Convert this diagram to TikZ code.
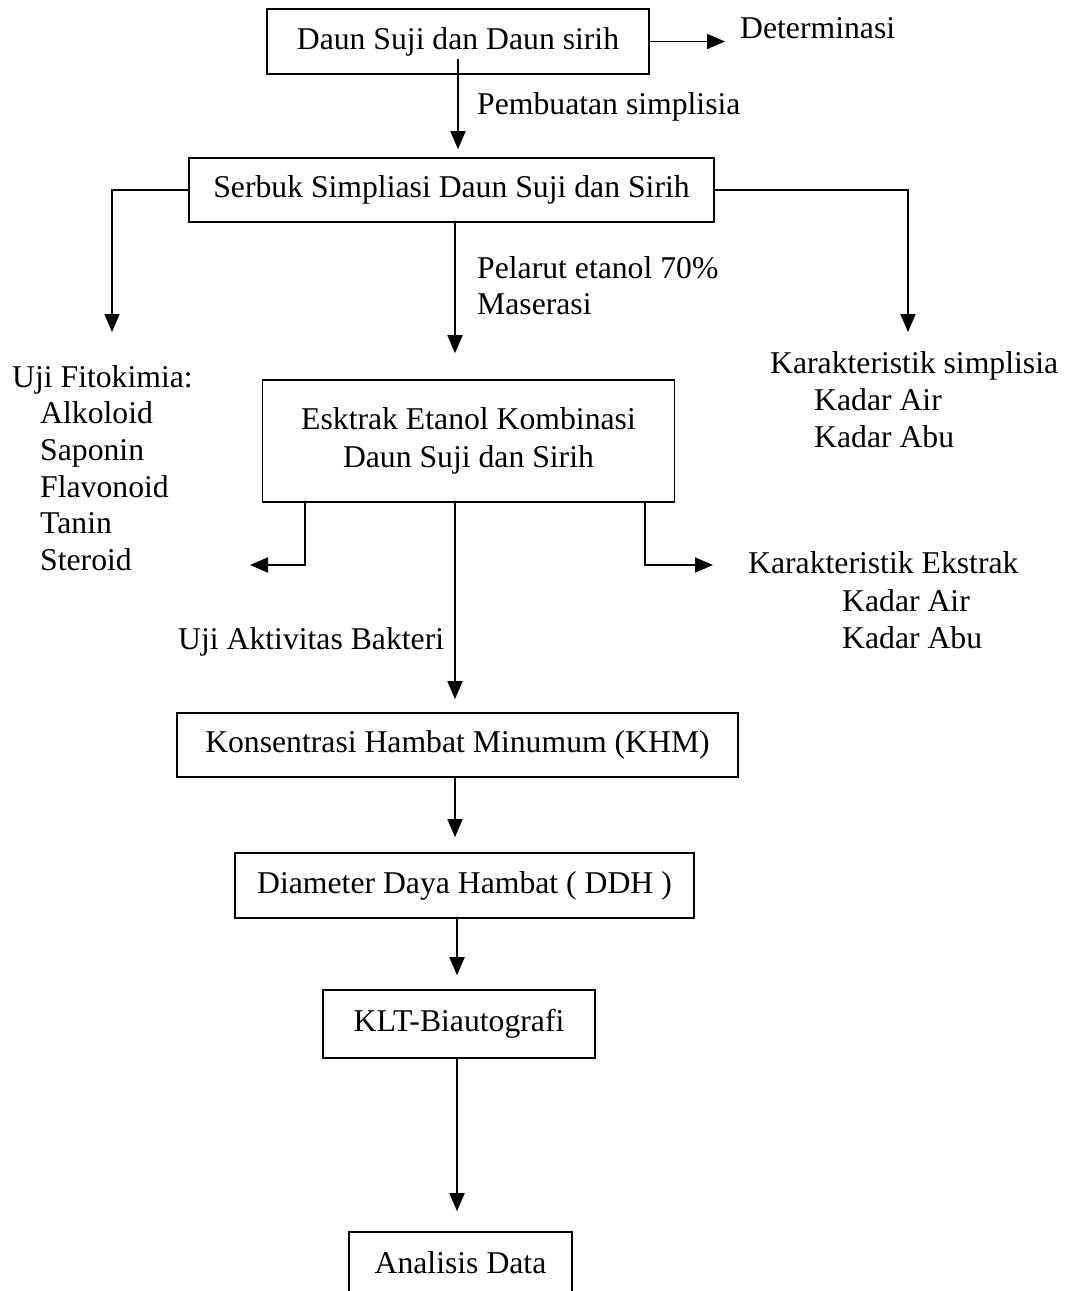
\documentclass[tikz,border=0pt]{standalone}
\usepackage{fontspec}
\setmainfont{Liberation Serif}
\usetikzlibrary{arrows.meta,calc}

\tikzset{
    kotak/.style={draw, line width=1.6pt, inner sep=0pt, align=center,
        font=\fontsize{31.7}{37.5}\selectfont},
    teks/.style={inner sep=0pt, anchor=base west,
        font=\fontsize{31.7}{36.7}\selectfont},
    garis/.style={line width=1.6pt},
    panah/.style={line width=1.7pt, -{Triangle[length=18pt,width=15pt]}}
}

\begin{document}
\begin{tikzpicture}[x=1pt,y=-1pt]
            \clip (0,0) rectangle (1072,1291);
            % kotak utama
            \node[kotak, minimum width=382, minimum height=65] (daun) at (458,41.5) {Daun Suji dan Daun sirih};
            \node[kotak, minimum width=525, minimum height=64] (serbuk) at (451.5,190) {Serbuk Simpliasi Daun Suji dan Sirih};
            \node[kotak, minimum width=412, minimum height=122] (ekstrak) at (468.5,441) {Esktrak Etanol Kombinasi\\Daun Suji dan Sirih};
            \node[kotak, minimum width=561, minimum height=64] (khm) at (457.5,745) {Konsentrasi Hambat Minumum (KHM)};
            \node[kotak, minimum width=459, minimum height=65] (ddh) at (464.5,885.5) {Diameter Daya Hambat ( DDH )};
            \node[kotak, minimum width=272, minimum height=68] (klt) at (459,1024) {KLT-Biautografi};
            \node[kotak, minimum width=223, minimum height=120, text depth=60] (analisis) at (460.5,1292) {Analisis Data};
            % teks
            \node[teks] (det) at (740,38) {Determinasi};
            \node[teks] (buat) at (477,114) {Pembuatan simplisia};
            \node[teks] (pelarut) at (477,278) {Pelarut etanol 70\%};
            \node[teks] (maserasi) at (477,314) {Maserasi};
            \node[teks] (fito) at (12,387) {Uji Fitokimia:};
            \foreach \uji [count=\i] in {Alkoloid,Saponin,Flavonoid,Tanin,Steroid}
                \node[teks] (fito\i) at (40,{387+36.7*\i}) {\uji};
            \node[teks] (karsim) at (770,373) {Karakteristik simplisia};
            \node[teks] (karsim1) at (814,410) {Kadar Air};
            \node[teks] (karsim2) at (814,447) {Kadar Abu};
            \node[teks] (karek) at (748,573) {Karakteristik Ekstrak};
            \node[teks] (karek1) at (842,611) {Kadar Air};
            \node[teks] (karek2) at (842,648) {Kadar Abu};
            \node[teks] (bakteri) at (178,649) {Uji Aktivitas Bakteri};
            % titik bantu
            \coordinate (spine) at (455,0);
            \coordinate (spinebawah) at (457,0);
            \coordinate (mulai) at (458,59);
            \coordinate (kiri) at (112,332);
            \coordinate (kanan) at (908,332);
            \coordinate (ekkiri) at (250,565);
            \coordinate (ekkanan) at (713,565);
            % panah
            \draw[panah, shorten >=15pt] (daun) -- (daun -| det.west);
            \draw[panah, shorten >=8pt] (mulai) -- (mulai |- serbuk.north);
            \draw[panah] (serbuk.west) -| (kiri);
            \draw[panah] (serbuk.east) -| (kanan);
            \draw[panah, shorten >=26pt] (serbuk.south -| spine) -- (ekstrak.north -| spine);
            \draw[panah] ([xshift=43pt]ekstrak.south west) |- (ekkiri);
            \draw[panah] ([xshift=-30pt]ekstrak.south east) |- (ekkanan);
            \draw[panah, shorten >=13pt] (ekstrak.south -| spine) -- (khm.north -| spine);
            \draw[panah, shorten >=15pt] (khm.south -| spine) -- (ddh.north -| spine);
            \draw[panah, shorten >=14pt] (ddh.south -| spinebawah) -- (klt.north -| spinebawah);
            \draw[panah, shorten >=20pt] (klt.south -| spinebawah) -- (analisis.north -| spinebawah);
\end{tikzpicture}
\end{document}
